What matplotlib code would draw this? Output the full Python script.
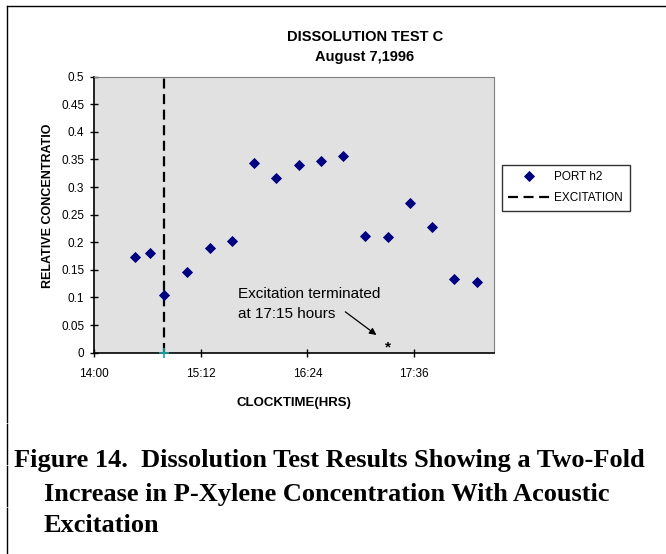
import matplotlib.pyplot as plt
from matplotlib.lines import Line2D

plt.rcParams['font.family'] = ['Liberation Sans', 'DejaVu Sans']

# sample times (clock) and relative concentration at port h2
times = ['14:28', '14:38', '14:47', '15:03', '15:18', '15:33', '15:48', '16:03',
         '16:18', '16:33', '16:48', '17:03', '17:18', '17:33', '17:48', '18:03', '18:18']
conc = [0.173, 0.181, 0.105, 0.147, 0.190, 0.202, 0.344, 0.316,
        0.340, 0.348, 0.356, 0.212, 0.209, 0.271, 0.227, 0.134, 0.128]

excitation_time = '14:47'
terminated_time = '17:18'
tick_labels = ['14:00', '15:12', '16:24', '17:36']


def minutes(t):
    h, m = t.split(':')
    return (int(h) - 14) * 60 + int(m)


x = [minutes(t) for t in times]
x_exc = minutes(excitation_time)

fig = plt.figure(figsize=(6.66, 5.54), dpi=100)
ax = fig.add_axes([0.1411, 0.3634, 0.6011, 0.4982])
ax.set_facecolor('#e1e1e1')

ax.plot(x, conc, 'D', color='#000080', markersize=4.8, mew=0.6, label='PORT h2', zorder=3)
ax.plot([x_exc, x_exc], [0, 0.5], '--', color='black', lw=1.6, dashes=(4.5, 2.5),
        label='EXCITATION')
ax.plot([x_exc], [0], '+', color='#20a0a0', markersize=7, mew=1.2, clip_on=False, zorder=4)

ax.set_xlim(0, 270)
ax.set_ylim(0, 0.5)
ax.set_xticks([minutes(t) for t in tick_labels])
ax.set_xticklabels(tick_labels)
ax.set_yticks([i * 0.05 for i in range(11)])
ax.set_yticklabels(['0', '0.05', '0.1', '0.15', '0.2', '0.25', '0.3', '0.35', '0.4', '0.45', '0.5'])
ax.tick_params(direction='inout', length=6, width=1, labelsize=8.5)
ax.tick_params(axis='x', pad=8)
ax.tick_params(axis='y', pad=4)

for s in ['top', 'right']:
    ax.spines[s].set_color('#808080')
for s in ['left', 'bottom']:
    ax.spines[s].set_linewidth(1.2)

ax.set_xlabel('CLOCKTIME(HRS)', fontsize=9.5, fontweight='bold', labelpad=12)
ax.set_ylabel('RELATIVE CONCENTRATIO', fontsize=9, fontweight='bold')
ax.yaxis.set_label_coords(-0.100, 0.533)

# termination marker and note
x_term = minutes(terminated_time)
ax.text(x_term, -0.004, '*', ha='center', va='bottom', fontsize=11, fontweight='bold')
ax.annotate('', xy=(x_term - 6, 0.029), xytext=(x_term - 30, 0.077),
            arrowprops=dict(arrowstyle='-|>', color='black', lw=0.9, mutation_scale=10))
ax.text(97, 0.119, 'Excitation terminated\nat 17:15 hours', fontsize=11, va='top',
        ha='left', linespacing=1.55)

fig.text(365 / 666, 1 - 37 / 554, 'DISSOLUTION TEST C', ha='center', va='center',
         fontsize=10.5, fontweight='bold')
fig.text(365 / 666, 1 - 57 / 554, 'August 7,1996', ha='center', va='center', fontsize=10.5,
         fontweight='bold')

leg = ax.legend(loc='upper left', bbox_to_anchor=(1.019, 0.68), fontsize=8.5,
                frameon=True, fancybox=False, edgecolor='black', borderpad=0.55,
                handlelength=3.5, handletextpad=0.4, labelspacing=0.75, borderaxespad=0)
leg.get_frame().set_linewidth(1.0)

# page frame lines
fig.add_artist(Line2D([7 / 666, 1], [1 - 6 / 554, 1 - 6 / 554], color='black', lw=1))
for y0, y1 in [(6, 422), (424, 464), (466, 506), (508, 554)]:
    fig.add_artist(Line2D([7 / 666, 7 / 666], [1 - y0 / 554, 1 - y1 / 554],
                          color='black', lw=1))

caption_lines = ['Figure 14.  Dissolution Test Results Showing a Two-Fold',
                 'Increase in P-Xylene Concentration With Acoustic',
                 'Excitation']
fig.text(14 / 666, 1 - 460 / 554, caption_lines[0], fontsize=19, fontweight='bold',
         family='Liberation Serif', va='center', ha='left')
fig.text(44 / 666, 1 - 494 / 554, caption_lines[1], fontsize=19, fontweight='bold',
         family='Liberation Serif', va='center', ha='left')
fig.text(44 / 666, 1 - 526 / 554, caption_lines[2], fontsize=19, fontweight='bold',
         family='Liberation Serif', va='center', ha='left')

fig.savefig('out.png', dpi=100)
